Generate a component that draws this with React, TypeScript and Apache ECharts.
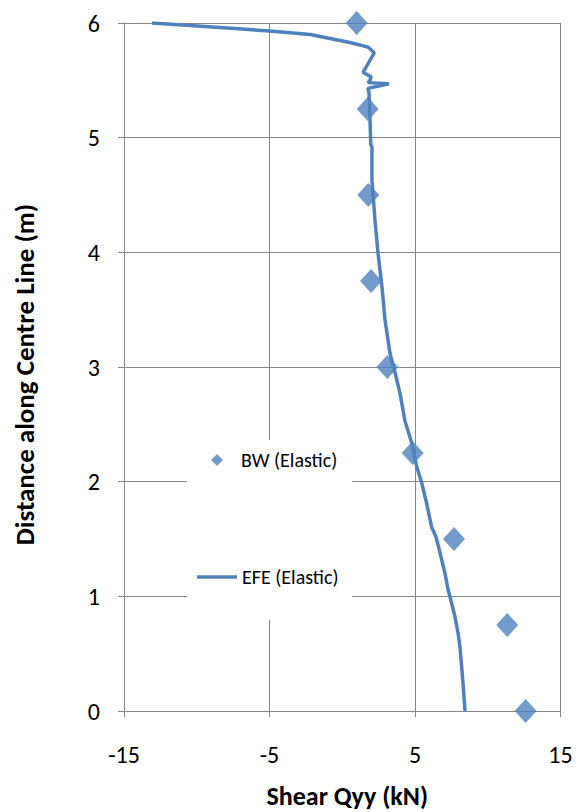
import React, { useEffect, useRef } from "react";
import * as echarts from "echarts";

const bwName = "BW (Elastic)";
const efeName = "EFE (Elastic)";

const bwX = [0.99, 1.75, 1.79, 1.98, 3.1, 4.84, 7.68, 11.34, 12.6];
const bwY = [6, 5.25, 4.5, 3.75, 3.0, 2.25, 1.5, 0.75, 0];

const efeX = [
  -13.08, -8.4, -5.0, -2.2, 0.53, 1.77, 2.2, 1.43, 1.7, 1.98, 1.91, 1.77, 3.21, 1.77, 1.84,
  1.91, 1.96, 2.04, 2.04, 2.25, 2.46, 2.73, 2.94, 3.28, 3.63, 3.97, 4.31, 4.77, 5.12, 5.46,
  5.8, 6.15, 6.44, 6.72, 7.06, 7.27, 7.52, 7.75, 7.96, 8.09, 8.21, 8.3, 8.44,
];
const efeY = [
  6.0, 5.96, 5.93, 5.9, 5.83, 5.79, 5.74, 5.57, 5.55, 5.53, 5.5, 5.48, 5.47, 5.43, 5.39,
  5.15, 4.94, 4.92, 4.63, 4.28, 3.99, 3.7, 3.41, 3.12, 2.95, 2.77, 2.53, 2.34, 2.13, 1.99,
  1.81, 1.6, 1.52, 1.38, 1.2, 1.06, 0.94, 0.82, 0.68, 0.56, 0.38, 0.24, 0.0,
];

const xTitle = "Shear Qyy (kN)";
const yTitle = "Distance along Centre Line (m)";

const FONT = "Carlito, Lato, sans-serif";
const BLUE = "#4F81BD";
const GRID = "#868686";

export default function App() {
  const ref = useRef<HTMLDivElement>(null);
  useEffect(() => {
    if (!ref.current) return;
    const chart = echarts.init(ref.current, undefined, { renderer: "svg" });
    chart.setOption({
      animation: false,
      backgroundColor: "#fff",
      grid: {
        left: 124,
        right: 18.5,
        top: 23,
        bottom: 101,
        containLabel: false,
        outerBoundsMode: "none",
      },
      xAxis: {
        type: "value",
        min: -15,
        max: 15,
        interval: 10,
        name: xTitle,
        nameLocation: "middle",
        nameGap: 72,
        nameTextStyle: {
          fontFamily: FONT,
          fontSize: 26,
          fontWeight: "bold",
          color: "#000",
          padding: [0, 0, 0, 10],
        },
        axisLine: { show: true, onZero: false, lineStyle: { color: GRID, width: 1 } },
        axisTick: { show: true, length: 6, lineStyle: { color: GRID } },
        axisLabel: { margin: 31, fontFamily: FONT, fontSize: 24, color: "#000" },
        splitLine: { show: true, lineStyle: { color: GRID, width: 1 } },
      },
      yAxis: {
        type: "value",
        min: 0,
        max: 6,
        interval: 1,
        name: yTitle,
        nameLocation: "middle",
        nameGap: 86,
        nameRotate: 90,
        nameTextStyle: {
          fontFamily: FONT,
          fontSize: 27,
          fontWeight: "bold",
          color: "#000",
          padding: [0, 15, 0, 0],
        },
        axisLine: { show: true, onZero: false, lineStyle: { color: GRID, width: 1 } },
        axisTick: { show: true, length: 6, lineStyle: { color: GRID } },
        axisLabel: { margin: 24, fontFamily: FONT, fontSize: 24, color: "#000" },
        splitLine: { show: true, lineStyle: { color: GRID, width: 1 } },
      },
      legend: [
        {
          data: [{ name: bwName, icon: "diamond" }],
          left: 187,
          top: 440,
          z: 3,
          itemWidth: 12,
          itemHeight: 12,
          padding: [10, 15, 150, 24],
          backgroundColor: "#fff",
          selectedMode: false,
          textStyle: { fontFamily: FONT, fontSize: 20, color: "#000", padding: [0, 0, 0, 13] },
        },
        {
          data: [{ name: efeName, icon: "rect" }],
          left: 197,
          top: 567,
          z: 5,
          padding: 0,
          itemWidth: 40,
          itemHeight: 3.5,
          selectedMode: false,
          textStyle: { fontFamily: FONT, fontSize: 20, color: "#000" },
        },
      ],
      series: [
        {
          name: efeName,
          type: "line",
          data: efeX.map((x, i) => [x, efeY[i]]),
          showSymbol: false,
          symbol: "none",
          lineStyle: { color: BLUE, width: 3.5 },
          itemStyle: { color: BLUE },
          z: 2,
        },
        {
          name: bwName,
          type: "scatter",
          data: bwX.map((x, i) => [x, bwY[i]]),
          symbol: "diamond",
          symbolSize: [22, 24],
          itemStyle: { color: BLUE },
          z: 3,
        },
      ],
    });
    return () => chart.dispose();
  }, []);
  return (
    <div
      ref={ref}
      style={{ position: "fixed", left: 0, top: 0, width: 579, height: 812, background: "#fff" }}
    />
  );
}
